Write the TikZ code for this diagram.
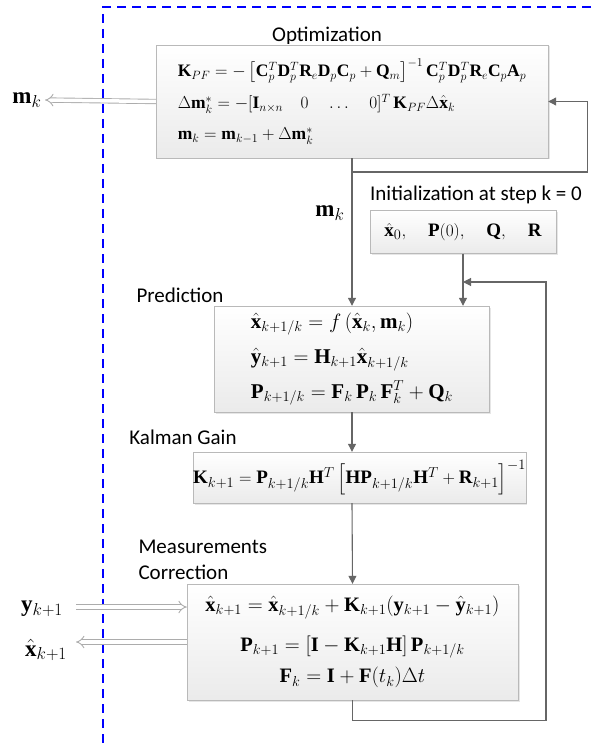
\documentclass[tikz,border=0pt]{standalone}
\usepackage{amsmath}
\usepackage{fontspec}
\setmainfont{Liberation Serif}
\newfontfamily\lblfont{Carlito}
\usepackage{tikz}
\usetikzlibrary{arrows.meta, shadows, calc}

\begin{document}
\begin{tikzpicture}[x=1pt, y=-1pt,
    box/.style={draw=gray!55, top color=white, bottom color=gray!16, drop shadow={opacity=0.2, shadow xshift=1.5pt, shadow yshift=-1.5pt}, inner sep=0pt},
    title/.style={font=\lblfont\fontsize{21}{26}\selectfont},
    flow/.style={draw=black!60, line width=1.1pt, -{Triangle[length=8pt, width=8pt]}},
    io/.style={draw=gray!65, double=white, double distance=3.5pt, line width=0.9pt, -{Implies}}]
    \useasboundingbox (0, 0) rectangle (591, 751);
    \draw[blue, line width=1.4pt, dash pattern=on 9pt off 6pt] (591, 7) -| (103, 745);

    \node[title] at (327, 36) (optT) {Optimization};
    \node[box, minimum width=392pt, minimum height=113pt, align=left, font=\fontsize{17.5}{20}\selectfont] at (352, 101.5) (opt) {$\mathbf{K}_{PF} = -\left[\mathbf{C}_p^T\mathbf{D}_p^T\mathbf{R}_e\mathbf{D}_p\mathbf{C}_p + \mathbf{Q}_m\right]^{-1}\mathbf{C}_p^T\mathbf{D}_p^T\mathbf{R}_e\mathbf{C}_p\mathbf{A}_p$\\[10pt]
        $\Delta\mathbf{m}_k^* = -[\mathbf{I}_{n\times n} \quad 0 \quad \ldots \quad 0]^T\,\mathbf{K}_{PF}\Delta\hat{\mathbf{x}}_k$\\[11pt]
        $\mathbf{m}_k = \mathbf{m}_{k-1} + \Delta\mathbf{m}_k^*$};

    \node[title] at (476, 195) (initT) {Initialization at step k = 0};
    \node[box, minimum width=186pt, minimum height=43pt, font=\fontsize{19}{20}\selectfont] at (463, 232) (init) {$\hat{\mathbf{x}}_0,\quad \mathbf{P}(0),\quad \mathbf{Q},\quad \mathbf{R}$};

    \node[title] at (180, 295) (predT) {Prediction};
    \node[box, minimum width=275pt, minimum height=106pt, align=left, font=\fontsize{21}{22}\selectfont] at (352, 359) (pred) {$\hat{\mathbf{x}}_{k+1/k} = f\left(\hat{\mathbf{x}}_k, \mathbf{m}_k\right)$\\[12pt]
        $\hat{\mathbf{y}}_{k+1} = \mathbf{H}_{k+1}\hat{\mathbf{x}}_{k+1/k}$\\[9pt]
        $\mathbf{P}_{k+1/k} = \mathbf{F}_k\,\mathbf{P}_k\,\mathbf{F}_k^T + \mathbf{Q}_k$};

    \node[title] at (183, 437) (kalT) {Kalman Gain};
    \node[box, minimum width=325pt, minimum height=51pt, font=\fontsize{19}{20}\selectfont] at (359.5, 477.5) (kal) {$\mathbf{K}_{k+1} = \mathbf{P}_{k+1/k}\mathbf{H}^T\left[\mathbf{H}\mathbf{P}_{k+1/k}\mathbf{H}^T + \mathbf{R}_{k+1}\right]^{-1}$};

    \node[title, align=left, anchor=west] at (135, 560) (corrT) {Measurements\\Correction};
    \node[box, minimum width=331pt, minimum height=116pt, align=center, font=\fontsize{20.5}{21}\selectfont] at (352.5, 642) (corr) {$\hat{\mathbf{x}}_{k+1} = \hat{\mathbf{x}}_{k+1/k} + \mathbf{K}_{k+1}(\mathbf{y}_{k+1} - \hat{\mathbf{y}}_{k+1})$\\[16pt]
        $\mathbf{P}_{k+1} = \left[\mathbf{I} - \mathbf{K}_{k+1}\mathbf{H}\right]\mathbf{P}_{k+1/k}$\\[8pt]
        $\mathbf{F}_k = \mathbf{I} + \mathbf{F}(t_k)\Delta t$};

    \node[font=\fontsize{23}{24}\selectfont] at (27, 100) (mkout) {$\mathbf{m}_k$};
    \node[font=\fontsize{23}{24}\selectfont] at (330, 213) (mk) {$\mathbf{m}_k$};
    \node[font=\fontsize{23}{24}\selectfont] at (42, 609) (yin) {$\mathbf{y}_{k+1}$};
    \node[font=\fontsize{23}{24}\selectfont] at (46, 650) (xout) {$\hat{\mathbf{x}}_{k+1}$};

    \coordinate (tap) at (352, 172);
    \coordinate (merge) at (463, 282);
    \coordinate (yinE) at (76, 607);
    \coordinate (xoutE) at (76, 642);

    \draw[flow] (opt.south) -- (pred.north);
    \draw[flow] (tap) -| ($(opt.east)+(39, 0)$) -- (opt.east);
    \draw[flow] (init.south) -- (init.south |- pred.north);
    \draw[flow] (pred.south) -- (pred.south |- kal.north);
    \draw[flow] (pred.south |- kal.south) -- (corr.north);
    \draw[flow] (corr.south) -- ++(0, 20) -| (546, 282) -- (merge);
    \draw[io] (opt.west) -- (mkout.east);
    \draw[io] (yinE) -- (yinE -| corr.west);
    \draw[io] (corr.west) -- (xoutE);
\end{tikzpicture}
\end{document}
